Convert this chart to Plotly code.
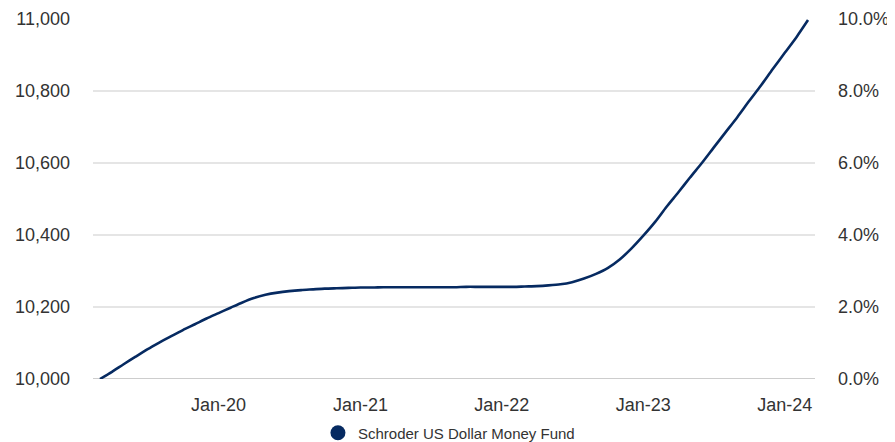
import plotly.graph_objects as go
import pandas as pd

# Monthly dates (Mar 2019 - Mar 2024)
dates = pd.date_range("2019-03-01", "2024-03-01", freq="MS").strftime("%Y-%m-%d").tolist()

# Growth of 10,000
fund_values = [
    10000, 10020, 10041, 10062, 10082, 10101, 10119, 10136, 10152, 10168,
    10183, 10198, 10212, 10225, 10234, 10240, 10244, 10247, 10249, 10251,
    10252, 10253, 10254, 10254, 10255, 10255, 10255, 10255, 10255, 10255,
    10255, 10256, 10256, 10256, 10256, 10256, 10257, 10258, 10260, 10263,
    10269, 10279, 10292, 10308, 10332, 10362, 10398, 10437, 10477, 10518,
    10559, 10600, 10642, 10685, 10728, 10772, 10816, 10861, 10906, 10951,
    10997,
]

series_name = "Schroder US Dollar Money Fund"
tick_dates = ["2020-01-01", "2021-01-01", "2022-01-01", "2023-01-01", "2024-01-01"]
tick_labels = ["Jan-20", "Jan-21", "Jan-22", "Jan-23", "Jan-24"]
left_ticks = [10000, 10200, 10400, 10600, 10800, 11000]
right_ticks = [0, 0.02, 0.04, 0.06, 0.08, 0.10]

navy = "#062a61"
font_family = "Liberation Sans, Arial, sans-serif"

fig = go.Figure()
fig.add_trace(go.Scatter(
    x=dates, y=fund_values, mode="lines",
    line=dict(color=navy, width=2.6, shape="spline", smoothing=0.7),
    name=series_name, showlegend=False, hoverinfo="skip",
))
# cumulative return on the right axis (invisible, drives the axis)
fig.add_trace(go.Scatter(
    x=dates, y=[v / 10000 - 1 for v in fund_values], mode="lines",
    line=dict(color="rgba(0,0,0,0)", width=0), yaxis="y2",
    showlegend=False, hoverinfo="skip",
))
# legend entry with round marker
fig.add_trace(go.Scatter(
    x=[None], y=[None], mode="markers",
    marker=dict(color=navy, size=15, symbol="circle"),
    name=series_name, showlegend=True,
))

# page body has an 8px margin, so the figure is sized to the visible area
fig.update_layout(
    width=887, height=434,
    margin=dict(l=85, r=80, t=11, b=63, autoexpand=False),
    paper_bgcolor="white", plot_bgcolor="white",
    font=dict(family=font_family, color="#333333", size=18),
    xaxis=dict(
        type="date", automargin=False,
        range=["2019-02-11", "2024-03-19"],
        tickvals=tick_dates, ticktext=tick_labels,
        showgrid=False, zeroline=False, showline=False,
        ticks="", ticklabelstandoff=13,
        tickfont=dict(size=18, color="#333333"),
    ),
    yaxis=dict(
        range=[10000, 11000], tickvals=left_ticks, automargin=False,
        tickformat=",d", showgrid=True, gridcolor="#e5e5e5", gridwidth=1.8,
        zeroline=False, showline=False, ticks="", ticklabelstandoff=22,
        tickfont=dict(size=18, color="#333333"),
    ),
    yaxis2=dict(
        range=[0, 0.10], tickvals=right_ticks, tickformat=".1%", automargin=False,
        overlaying="y", side="right", showgrid=False, zeroline=False,
        showline=False, ticks="", ticklabelstandoff=22,
        tickfont=dict(size=18, color="#333333"),
    ),
    legend=dict(
        orientation="h", x=0.493, xanchor="center", y=-0.15, yanchor="middle",
        font=dict(size=15, color="#333333"), itemwidth=30,
        bgcolor="rgba(0,0,0,0)",
    ),
    shapes=[dict(
        type="line", xref="paper", yref="y", x0=0, x1=1, y0=10000, y1=10000,
        line=dict(color="#cdcdcd", width=2), layer="below",
    )],
)

fig.write_html("out.html")
